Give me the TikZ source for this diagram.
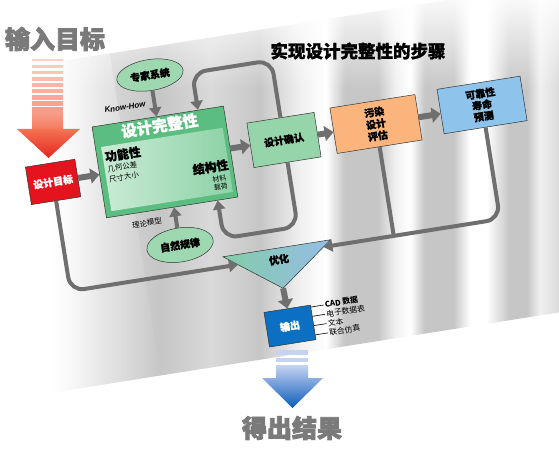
\documentclass[tikz,border=0pt]{standalone}
\usepackage{fontspec}
\setmainfont{Noto Sans CJK SC}
\newfontfamily\heavyfont{Noto Sans CJK SC}[BoldFeatures={FakeBold=1.2}]
\newfontfamily\titlefont{Noto Sans CJK SC}[BoldFeatures={FakeBold=3}]
\newfontfamily\latinsans{Liberation Sans}
\usetikzlibrary{arrows.meta,shapes.geometric,calc,fadings}

\definecolor{goalred}{HTML}{E4141F}
\definecolor{bubblegreen}{HTML}{9ED8B0}
\definecolor{integgreen}{HTML}{5BBE80}
\definecolor{integlight}{HTML}{CBEBD6}
\definecolor{confirmgreen}{HTML}{96D4AA}
\definecolor{pollutorange}{HTML}{FAB47C}
\definecolor{reliabblue}{HTML}{8EC4EC}
\definecolor{outblue}{HTML}{0B70C2}
\definecolor{optgreen}{HTML}{82CCA8}
\definecolor{optblue}{HTML}{96BDE6}
\definecolor{arrowgray}{HTML}{6F6F6F}
\definecolor{titlegray}{HTML}{7A7A7A}
\definecolor{inarrow}{HTML}{F25A37}
\definecolor{inred}{HTML}{E3261B}
\definecolor{outlight}{HTML}{C5D5EF}
\definecolor{outmid}{HTML}{8DAEE2}
\definecolor{outdark}{HTML}{0C5DB8}
\definecolor{bandD}{HTML}{C6C6C6}
\definecolor{bandM}{HTML}{D9D9D9}
\definecolor{bandL}{HTML}{F0F0F0}

% light and dark streaks of the board
\pgfdeclarehorizontalshading{panelbands}{100bp}{color(0bp)=(white); color(25bp)=(white);
  color(28.9bp)=(white); color(32.8bp)=(bandM); color(37.5bp)=(bandD); color(41.5bp)=(bandM);
  color(45.4bp)=(bandD); color(48.6bp)=(bandL); color(50.6bp)=(white); color(52.1bp)=(bandD);
  color(54.7bp)=(bandD); color(56.1bp)=(bandL); color(57.3bp)=(white); color(58.4bp)=(bandD);
  color(60.7bp)=(bandD); color(62bp)=(white); color(63.3bp)=(white); color(65.1bp)=(bandD);
  color(66.5bp)=(bandD); color(67.5bp)=(bandL); color(69.1bp)=(bandM); color(75bp)=(bandL);
  color(100bp)=(bandL)}

\tikzfading[name=fadeleft, left color=transparent!0, right color=transparent!100]
\tikzfading[name=fadetop, top color=transparent!0, bottom color=transparent!100]

\tikzset{
  stepbox/.style={draw=black!80, line width=0.5pt, align=center, inner sep=1pt,
    font=\heavyfont\bfseries\fontsize{10}{12}\selectfont},
  bubble/.style={ellipse, draw=black!80, line width=0.5pt, fill=bubblegreen, inner sep=0pt,
    minimum width=67pt, minimum height=31pt, font=\heavyfont\bfseries\fontsize{10}{12}\selectfont},
  fat/.style={draw=arrowgray, line width=6pt, -{Triangle[length=9pt,width=15pt]}},
  flow/.style={draw=arrowgray, line width=4pt, rounded corners=14pt,
    -{Triangle[length=9pt,width=12pt]}},
  feedline/.style={draw=arrowgray, line width=4pt},
  smalltext/.style={font=\fontsize{7.5}{9}\selectfont, inner sep=0pt},
  bigtitle/.style={font=\titlefont\bfseries\fontsize{25}{25}\selectfont, inner sep=0pt, text=titlegray},
}

\begin{document}
\begin{tikzpicture}[x=1pt,y=-1pt]
	\useasboundingbox (0,0) rectangle (559,454);
	\clip (0,0) rectangle (559,454);

	% tilted board
	\begin{scope}[rotate=9, transform shape]
		\shade[shading=panelbands] (-10,70) rectangle (580,396);
		\fill[white, path fading=fadeleft] (-10,70) rectangle (100,396);
	\end{scope}
	\fill[white, path fading=fadetop] (0,-10) rectangle (559,90);

	% input arrow
	\foreach \i in {0,...,8}{
		\pgfmathsetmacro{\mix}{28+4*\i}
		\fill[inarrow!\mix!white] (32,59+6*\i) rectangle (63,61.5+6.4*\i);
	}
	\shade[top color=inarrow!60!white, bottom color=inarrow!80!white] (32,113) rectangle (63,129);
	\shade[top color=inarrow!85!white, bottom color=inred] (17,129) -- (80,129) -- (48.5,158) -- cycle;
	\node[bigtitle] (intitle) at (55,39) {输入目标};

	% output arrow
	\fill[outlight] (276,350) rectangle (308,355);
	\fill[outlight] (276,358) rectangle (308,362);
	\shade[top color=outlight, bottom color=outmid] (276,365) rectangle (308,378);
	\shade[top color=outmid, bottom color=outdark] (262,378) -- (323,378) -- (292.5,408) -- cycle;
	\node[bigtitle] (outtitle) at (292,428) {得出结果};

	% heading
	\node[font=\heavyfont\bfseries\fontsize{17.5}{18}\selectfont] (steps) at (358,51) {实现设计完整性的步骤};

	\begin{scope}[rotate=9, transform shape]
		% boxes
		\node[stepbox, fill=goalred, text=white, minimum width=50pt, minimum height=38pt] (goal) at (24,188) {设计目标};
		\node[draw=black!80, line width=0.5pt, minimum width=133pt, minimum height=92pt, fill=integgreen] (integ) at (137.6,185.8) {};
		\shade[left color=integlight, right color=integgreen!70!white] (77,161) rectangle (200,226);
		\node[stepbox, fill=confirmgreen, minimum width=68pt, minimum height=45pt] (confirm) at (258.6,182.7) {设计确认};
		\node[stepbox, fill=pollutorange, minimum width=86pt, minimum height=46pt] (pollut) at (352,181.3) {污染\\设计\\评估};
		\node[stepbox, fill=reliabblue, minimum width=84pt, minimum height=45pt,
			font=\heavyfont\bfseries\fontsize{10}{11.5}\selectfont] (reliab) at (459.7,179.1) {可靠性\\寿命\\预测};
		\node[bubble] (expert) at (136.4,97.6) {专家系统};
		\node[bubble, minimum height=34pt] (nature) at (139.5,270.1) {自然规律};
		\node[stepbox, fill=outblue, text=white, minimum width=47pt, minimum height=35pt] (output) at (235.4,367.4) {输出};

		% text in the big box
		\node[font=\heavyfont\bfseries\fontsize{15.5}{16}\selectfont, text=white, inner sep=0pt] (integtitle) at (138,149) {设计完整性};
		\node[font=\heavyfont\bfseries\fontsize{12}{12}\selectfont, inner sep=0pt, anchor=west] (func) at (79,171.5) {功能性};
		\node[smalltext, anchor=west] (tol) at (79.5,184) {几何公差};
		\node[smalltext, anchor=west] (size) at (79.5,194.3) {尺寸大小};
		\node[font=\heavyfont\bfseries\fontsize{12}{12}\selectfont, inner sep=0pt, anchor=east] (struct) at (200,198) {结构性};
		\node[smalltext, font=\fontsize{7}{8}\selectfont, anchor=east] (mat) at (196,210.5) {材料};
		\node[smalltext, font=\fontsize{7}{8}\selectfont, anchor=east] (load) at (196,219.5) {载荷};

		\node[font=\latinsans\bfseries\itshape\fontsize{8}{9}\selectfont, inner sep=0pt] (knowhow) at (106.7,125.3) {Know-How};
		\node[smalltext] (theory) at (110.3,243.3) {理论模型};

		% optimisation triangle
		\coordinate (optl) at (180,288.5);
		\coordinate (optr) at (289,288.5);
		\coordinate (optb) at (234.5,329);
		\shadedraw[draw=black!80, line width=0.5pt, left color=optgreen, right color=optblue] (optl) -- (optr) -- (optb) -- cycle;
		\node[font=\heavyfont\bfseries\fontsize{10}{12}\selectfont, inner sep=0pt] (optlabel) at (235,300) {优化};
		\coordinate (optinl) at ($(optl)!0.25!(optb)$);
		\coordinate (optinr) at ($(optr)!0.15!(optb)$);
		\coordinate (intop) at ($(integ.north east)!0.39!(integ.north)$);
		\coordinate (inbot) at ($(integ.south east)!0.31!(integ.south)$);

		% arrows
		\draw[fat] (goal.east) -- (goal.east -| integ.west);
		\draw[fat] (integ.east |- confirm.west) -- (confirm.west);
		\draw[fat] (confirm.east) -- (confirm.east -| pollut.west);
		\draw[fat] (pollut.east) -- (pollut.east -| reliab.west);
		\draw[flow] (expert.south) -- (expert.south |- integ.north);
		\draw[flow] (nature.north) -- (nature.north |- integ.south);
		\draw[flow] (confirm.north) -- ++(0,-58) -| (intop);
		\draw[flow] (confirm.south) -- ++(0,65) -| (inbot);
		\draw[flow] (goal.south) |- (optinl);
		\draw[flow] (reliab.south) |- (optinr);
		\draw[feedline] (pollut.south) -- (pollut.south |- optinr);
		\draw[fat] (optb) -- (output.north);

		% results
		\foreach \lab [count=\i] in {{\bfseries CAD 数据}, 电子数据表, 文本, 联合仿真}{
			\node[smalltext, font=\fontsize{7.8}{9}\selectfont, anchor=west] (res\i) at (273,342.5+9.4*\i) {\lab};
			\draw[line width=0.6pt] (output.east |- res\i.west) -- ([xshift=-1pt]res\i.west);
		}
	\end{scope}
\end{tikzpicture}
\end{document}
